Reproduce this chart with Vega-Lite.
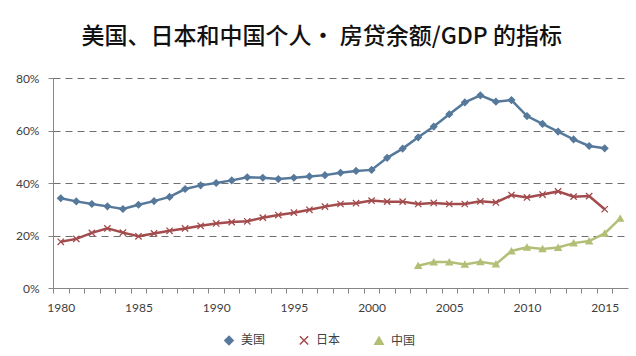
{
  "$schema": "https://vega.github.io/schema/vega-lite/v6.json",
  "width": 575,
  "height": 210,
  "autosize": {"type": "none"},
  "padding": {"left": 53, "top": 78, "right": 8, "bottom": 68},
  "background": "white",
  "title": {
    "text": "美国、日本和中国个人· 房贷余额/GDP 的指标",
    "font": "Noto Sans CJK SC",
    "fontSize": 23,
    "fontWeight": 500,
    "color": "#111111",
    "anchor": "middle",
    "frame": "bounds",
    "offset": 23
  },
  "config": {
    "view": {"stroke": null},
    "axis": {
      "labelFont": "Lato",
      "labelFontSize": 12,
      "labelColor": "#404040",
      "domainColor": "#868686",
      "tickColor": "#868686",
      "tickSize": 5,
      "title": null
    },
    "legend": {
      "labelFont": "Noto Sans CJK SC",
      "labelFontSize": 12,
      "labelColor": "#404040",
      "orient": "none",
      "legendX": 170,
      "legendY": 256,
      "direction": "horizontal",
      "title": null,
      "symbolSize": 70,
      "symbolStrokeWidth": 1.5,
      "columnPadding": 30,
      "labelOffset": 6
    }
  },
  "data": {
    "values": [
      {"year": 1980, "country": "美国", "value": 0.342},
      {"year": 1981, "country": "美国", "value": 0.330},
      {"year": 1982, "country": "美国", "value": 0.320},
      {"year": 1983, "country": "美国", "value": 0.311},
      {"year": 1984, "country": "美国", "value": 0.301},
      {"year": 1985, "country": "美国", "value": 0.317},
      {"year": 1986, "country": "美国", "value": 0.331},
      {"year": 1987, "country": "美国", "value": 0.347},
      {"year": 1988, "country": "美国", "value": 0.377},
      {"year": 1989, "country": "美国", "value": 0.391},
      {"year": 1990, "country": "美国", "value": 0.400},
      {"year": 1991, "country": "美国", "value": 0.410},
      {"year": 1992, "country": "美国", "value": 0.422},
      {"year": 1993, "country": "美国", "value": 0.420},
      {"year": 1994, "country": "美国", "value": 0.415},
      {"year": 1995, "country": "美国", "value": 0.420},
      {"year": 1996, "country": "美国", "value": 0.425},
      {"year": 1997, "country": "美国", "value": 0.430},
      {"year": 1998, "country": "美国", "value": 0.439},
      {"year": 1999, "country": "美国", "value": 0.446},
      {"year": 2000, "country": "美国", "value": 0.450},
      {"year": 2001, "country": "美国", "value": 0.496},
      {"year": 2002, "country": "美国", "value": 0.531},
      {"year": 2003, "country": "美国", "value": 0.574},
      {"year": 2004, "country": "美国", "value": 0.615},
      {"year": 2005, "country": "美国", "value": 0.662},
      {"year": 2006, "country": "美国", "value": 0.707},
      {"year": 2007, "country": "美国", "value": 0.734},
      {"year": 2008, "country": "美国", "value": 0.710},
      {"year": 2009, "country": "美国", "value": 0.716},
      {"year": 2010, "country": "美国", "value": 0.655},
      {"year": 2011, "country": "美国", "value": 0.625},
      {"year": 2012, "country": "美国", "value": 0.596},
      {"year": 2013, "country": "美国", "value": 0.566},
      {"year": 2014, "country": "美国", "value": 0.541},
      {"year": 2015, "country": "美国", "value": 0.532},
      {"year": 1980, "country": "日本", "value": 0.176},
      {"year": 1981, "country": "日本", "value": 0.187},
      {"year": 1982, "country": "日本", "value": 0.210},
      {"year": 1983, "country": "日本", "value": 0.227},
      {"year": 1984, "country": "日本", "value": 0.211},
      {"year": 1985, "country": "日本", "value": 0.197},
      {"year": 1986, "country": "日本", "value": 0.208},
      {"year": 1987, "country": "日本", "value": 0.218},
      {"year": 1988, "country": "日本", "value": 0.227},
      {"year": 1989, "country": "日本", "value": 0.237},
      {"year": 1990, "country": "日本", "value": 0.246},
      {"year": 1991, "country": "日本", "value": 0.251},
      {"year": 1992, "country": "日本", "value": 0.254},
      {"year": 1993, "country": "日本", "value": 0.268},
      {"year": 1994, "country": "日本", "value": 0.278},
      {"year": 1995, "country": "日本", "value": 0.287},
      {"year": 1996, "country": "日本", "value": 0.298},
      {"year": 1997, "country": "日本", "value": 0.310},
      {"year": 1998, "country": "日本", "value": 0.320},
      {"year": 1999, "country": "日本", "value": 0.323},
      {"year": 2000, "country": "日本", "value": 0.333},
      {"year": 2001, "country": "日本", "value": 0.329},
      {"year": 2002, "country": "日本", "value": 0.329},
      {"year": 2003, "country": "日本", "value": 0.320},
      {"year": 2004, "country": "日本", "value": 0.324},
      {"year": 2005, "country": "日本", "value": 0.320},
      {"year": 2006, "country": "日本", "value": 0.320},
      {"year": 2007, "country": "日本", "value": 0.330},
      {"year": 2008, "country": "日本", "value": 0.326},
      {"year": 2009, "country": "日本", "value": 0.354},
      {"year": 2010, "country": "日本", "value": 0.345},
      {"year": 2011, "country": "日本", "value": 0.356},
      {"year": 2012, "country": "日本", "value": 0.368},
      {"year": 2013, "country": "日本", "value": 0.348},
      {"year": 2014, "country": "日本", "value": 0.350},
      {"year": 2015, "country": "日本", "value": 0.300},
      {"year": 2003, "country": "中国", "value": 0.085},
      {"year": 2004, "country": "中国", "value": 0.099},
      {"year": 2005, "country": "中国", "value": 0.099},
      {"year": 2006, "country": "中国", "value": 0.090},
      {"year": 2007, "country": "中国", "value": 0.100},
      {"year": 2008, "country": "中国", "value": 0.091},
      {"year": 2009, "country": "中国", "value": 0.141},
      {"year": 2010, "country": "中国", "value": 0.155},
      {"year": 2011, "country": "中国", "value": 0.149},
      {"year": 2012, "country": "中国", "value": 0.154},
      {"year": 2013, "country": "中国", "value": 0.171},
      {"year": 2014, "country": "中国", "value": 0.179},
      {"year": 2015, "country": "中国", "value": 0.208},
      {"year": 2016, "country": "中国", "value": 0.265}
    ]
  },
  "encoding": {
    "x": {
      "field": "year",
      "type": "quantitative",
      "scale": {"domain": [1979.5, 2016.5], "nice": false, "zero": false},
      "axis": {
        "values": [1980,1981,1982,1983,1984,1985,1986,1987,1988,1989,1990,1991,1992,1993,1994,1995,1996,1997,1998,1999,2000,2001,2002,2003,2004,2005,2006,2007,2008,2009,2010,2011,2012,2013,2014,2015,2016,2017],
        "labelExpr": "datum.value % 5 == 0 ? '' + datum.value : ''",
        "tickOffset": -7.77,
        "labelOffset": 7.77,
        "labelPadding": 9,
        "grid": false,
        "labelOverlap": false
      }
    },
    "y": {
      "field": "value",
      "type": "quantitative",
      "scale": {"domain": [0, 0.8], "nice": false},
      "axis": {
        "values": [0, 0.2, 0.4, 0.6, 0.8],
        "format": ".0%",
        "grid": true,
        "gridColor": "#6f6f6f",
        "gridDash": [7, 5],
        "gridWidth": 1,
        "labelPadding": 9
      }
    },
    "color": {
      "field": "country",
      "type": "nominal",
      "scale": {"domain": ["美国", "日本", "中国"], "range": ["#56799B", "#A34B4D", "#B3BF77"]},
      "legend": {"title": null}
    }
  },
  "layer": [
    {
      "mark": {"type": "line", "strokeWidth": 2.5}
    },
    {
      "mark": {"type": "point", "filled": true, "size": 40, "strokeWidth": 1.3, "opacity": 1},
      "encoding": {
        "stroke": {
          "field": "country",
          "type": "nominal",
          "scale": {"domain": ["美国", "日本", "中国"], "range": ["#56799B", "#A34B4D", "#B3BF77"]},
          "legend": {"title": null}
        },
        "shape": {
          "field": "country",
          "type": "nominal",
          "scale": {"domain": ["美国", "日本", "中国"], "range": ["diamond", "M-1,-1L1,1M1,-1L-1,1", "triangle-up"]},
          "legend": {"title": null}
        }
      }
    }
  ]
}
